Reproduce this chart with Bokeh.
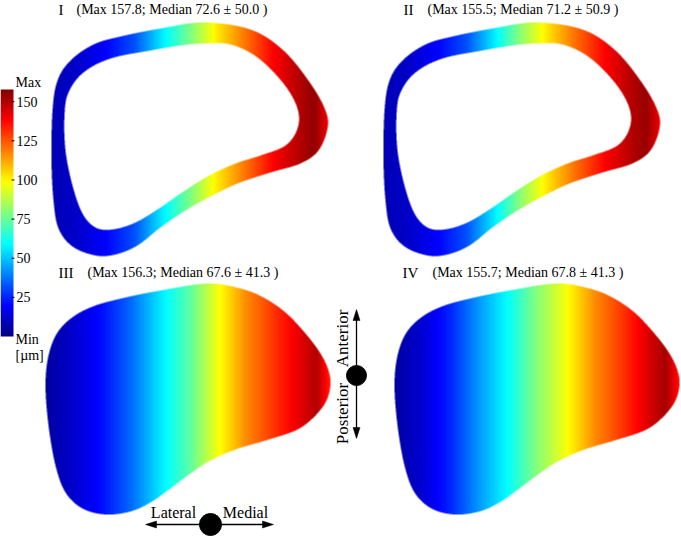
import numpy as np
from bokeh.plotting import figure
from bokeh.models import Range1d
from bokeh.core.properties import value
from bokeh.embed import file_html
from bokeh.resources import INLINE

W, H = 681, 536

# ---------------- data ----------------
PANELS = ["I", "II", "III", "IV"]
MAX_VALS = [157.8, 155.5, 156.3, 155.7]
MEDIANS = [72.6, 71.2, 67.6, 67.8]
SDS = [50.0, 50.9, 41.3, 41.3]
CBAR_TICKS = [25, 50, 75, 100, 125, 150]
CBAR_MIN, CBAR_MAX = 0.0, 157.8
UNIT = "[µm]"

# thickness profile along lateral -> medial (fraction of shape width)
PROFILE_POS = [0.0, 0.1, 0.2, 0.3, 0.4, 0.5, 0.6, 0.7, 0.8, 0.9, 0.95, 1.0]
PROFILE_I = [8, 12, 20, 32, 56, 78, 102, 120, 138, 150, 155, 140]
PROFILE_II = [8, 12, 20, 32, 56, 82, 104, 122, 138, 150, 154, 140]
PROFILE_III = [5, 12, 22, 36, 55, 72, 96, 116, 130, 143, 150, 132]
PROFILE_IV = [5, 13, 26, 44, 60, 80, 97, 116, 130, 145, 152, 135]
PROFILES = [PROFILE_I, PROFILE_II, PROFILE_III, PROFILE_IV]

# outline geometry (screen px, y down)
RING_OUTER = [(203, 22), (250, 29), (283, 50), (310, 83), (325, 110), (327, 128),
              (318, 150), (300, 163), (270, 172), (237, 183), (210, 196), (185, 210),
              (160, 227), (137, 245), (115, 254), (95, 255), (72, 246), (58, 228),
              (53, 200), (51, 160), (52, 110), (57, 80), (70, 60), (93, 44),
              (120, 36), (160, 28)]
RING_INNER = [(203, 43), (230, 44), (257, 57), (283, 83), (297, 108), (297, 128),
              (285, 145), (260, 155), (235, 163), (207, 176), (180, 193), (160, 207),
              (135, 222), (112, 229), (95, 227), (82, 213), (72, 185), (65, 150),
              (64, 115), (68, 92), (83, 72), (110, 58), (150, 50), (180, 45)]
SOLID = [(207, 283), (240, 288), (263, 297), (285, 312), (305, 333), (320, 353),
         (328, 370), (330, 385), (325, 402), (312, 418), (295, 430), (265, 440),
         (235, 449), (210, 460), (190, 473), (170, 488), (150, 502), (130, 511),
         (105, 514), (82, 508), (65, 492), (55, 465), (48, 425), (45, 385),
         (48, 355), (57, 332), (73, 316), (95, 305), (125, 297), (160, 290)]
RING_SHIFT = 332
SOLID_SHIFT = 349


def catmull(pts, k=8):
    P = np.asarray(pts, float)
    n = len(P)
    t = np.linspace(0, 1, k, endpoint=False)[:, None]
    out = []
    for i in range(n):
        p0, p1, p2, p3 = P[(i - 1) % n], P[i], P[(i + 1) % n], P[(i + 2) % n]
        seg = 0.5 * (2 * p1 + (-p0 + p2) * t + (2 * p0 - 5 * p1 + 4 * p2 - p3) * t ** 2
                     + (-p0 + 3 * p1 - 3 * p2 + p3) * t ** 3)
        out.append(seg)
    return np.vstack(out)


def inside(X, Y, poly):
    vx, vy = poly[:, 0], poly[:, 1]
    res = np.zeros(X.shape, bool)
    n = len(vx)
    j = n - 1
    for i in range(n):
        xi, yi, xj, yj = vx[i], vy[i], vx[j], vy[j]
        if yi != yj:
            cond = ((yi > Y) != (yj > Y)) & (X < (xj - xi) * (Y - yi) / (yj - yi) + xi)
            res ^= cond
        j = i
    return res


def coverage(outer, inner, x0, x1, y0, y1, ss=3):
    w, h = x1 - x0, y1 - y0
    xs = x0 + (np.arange(w * ss) + 0.5) / ss
    ys = y0 + (np.arange(h * ss) + 0.5) / ss
    X, Y = np.meshgrid(xs, ys)
    m = inside(X, Y, outer)
    if inner is not None:
        m &= ~inside(X, Y, inner)
    return m.reshape(h, ss, w, ss).mean(axis=(1, 3))


def jet(t):
    r = np.clip(1.5 - np.abs(4 * t - 3), 0, 1)
    g = np.clip(1.5 - np.abs(4 * t - 2), 0, 1)
    b = np.clip(1.5 - np.abs(4 * t - 1), 0, 1)
    return r, g, b


def to_img(r, g, b, a):
    h, w = a.shape
    rgba = np.zeros((h, w, 4), np.uint8)
    rgba[..., 0] = np.round(r * 255)
    rgba[..., 1] = np.round(g * 255)
    rgba[..., 2] = np.round(b * 255)
    rgba[..., 3] = np.round(a * 255)
    img = rgba.view(np.uint32).reshape(h, w)
    return np.ascontiguousarray(img[::-1])


p = figure(width=W, height=H, x_range=Range1d(0, W), y_range=Range1d(0, H),
           x_axis_type=None, y_axis_type=None, toolbar_location=None,
           output_backend="svg", min_border=0, outline_line_color=None,
           background_fill_color="white", border_fill_color="white")
p.grid.visible = False

ring_out = catmull(RING_OUTER)
ring_in = catmull(RING_INNER)
solid = catmull(SOLID)

RB = (44, 336, 14, 264)     # bbox x0, x1, y0, y1
SB = (38, 338, 276, 522)
cov_ring = coverage(ring_out, ring_in, *RB)
cov_solid = coverage(solid, None, *SB)

panels = [
    (cov_ring, RB, 0, ring_out),
    (cov_ring, RB, RING_SHIFT, ring_out),
    (cov_solid, SB, 0, solid),
    (cov_solid, SB, SOLID_SHIFT, solid),
]

for k, (cov, bb, sh, outline) in enumerate(panels):
    x0, x1, y0, y1 = bb
    x0s = x0 + sh
    h, w = cov.shape
    lo = outline[:, 0].min() + sh
    hi = outline[:, 0].max() + sh
    px = x0s + np.arange(w) + 0.5
    v = np.interp((px - lo) / (hi - lo), PROFILE_POS, PROFILES[k])
    t = np.clip((v - CBAR_MIN) / (CBAR_MAX - CBAR_MIN), 0, 1)
    r, g, b = jet(t)
    ones = np.ones((h, 1))
    img = to_img(ones * r[None, :], ones * g[None, :], ones * b[None, :], cov)
    p.image_rgba(image=[img], x=x0s, y=H - y1, dw=w, dh=h)

# ---------------- colorbar ----------------
CB_X0, CB_X1, CB_TOP, CB_BOT = 0, 13, 89, 336
ch = CB_BOT - CB_TOP
rows = CB_TOP + np.arange(ch) + 0.5
vals = CBAR_MAX * (CB_BOT - rows) / (CB_BOT - CB_TOP)
t = (vals - CBAR_MIN) / (CBAR_MAX - CBAR_MIN)
r, g, b = jet(t)
ones = np.ones((1, CB_X1 - CB_X0))
cimg = to_img(r[:, None] * ones, g[:, None] * ones, b[:, None] * ones,
              np.ones((ch, CB_X1 - CB_X0)))
p.image_rgba(image=[cimg], x=CB_X0, y=H - CB_BOT, dw=CB_X1 - CB_X0, dh=ch)


def ypix(v):
    return CB_BOT - (v - CBAR_MIN) / (CBAR_MAX - CBAR_MIN) * (CB_BOT - CB_TOP)


tick_y = [H - ypix(v) for v in CBAR_TICKS]
p.segment(x0=[CB_X1 - 2] * len(tick_y), x1=[CB_X1 + 1] * len(tick_y), y0=tick_y, y1=tick_y,
          line_color="black", line_width=1)
serif = value("Liberation Serif")
p.text(x=[16] * len(CBAR_TICKS), y=tick_y, text=[str(v) for v in CBAR_TICKS],
       text_font=serif, text_font_size=value("14px"), text_baseline="middle",
       text_align="left", text_color="black")
p.text(x=[15, 15, 15], y=[H - 82, H - 339, H - 355], text=["Max", "Min", UNIT],
       text_font=serif, text_font_size=value("14px"), text_baseline="middle",
       text_align="left", text_color="black")

# ---------------- titles ----------------
num_pos = [(58, 9), (403, 9), (58, 272), (402, 272)]
txt_pos = [(76, 9), (427, 9), (87, 272), (432, 272)]
for k in range(4):
    p.text(x=[num_pos[k][0]], y=[H - num_pos[k][1]], text=[PANELS[k]],
           text_font=serif, text_font_size=value("15px"), text_baseline="middle",
           text_color="black")
    s = f"(Max {MAX_VALS[k]:.1f}; Median {MEDIANS[k]:.1f} \u00b1 {SDS[k]:.1f} )"
    p.text(x=[txt_pos[k][0]], y=[H - txt_pos[k][1]], text=[s],
           text_font=serif, text_font_size=value("14px"), text_baseline="middle",
           text_color="black")

# ---------------- orientation markers ----------------
HEAD_L, HEAD_W = 11, 3.5
# vertical: Anterior / Posterior
vx, vy, vt, vb, vr = 356, 375, 309, 438, 10
p.segment(x0=[vx], x1=[vx], y0=[H - (vt + HEAD_L - 2)], y1=[H - (vb - HEAD_L + 2)],
          line_color="black", line_width=1.3)
p.patches(xs=[[vx, vx - HEAD_W, vx + HEAD_W], [vx, vx - HEAD_W, vx + HEAD_W]],
          ys=[[H - vt, H - (vt + HEAD_L), H - (vt + HEAD_L)],
              [H - vb, H - (vb - HEAD_L), H - (vb - HEAD_L)]],
          fill_color="black", line_color="black", line_width=0.5)
p.scatter(x=[vx], y=[H - vy], size=2 * vr, marker="circle", fill_color="black",
          line_color="black")
p.text(x=[342, 342], y=[H - 338, H - 413], text=["Anterior", "Posterior"],
       angle=np.pi / 2, text_font=serif, text_font_size=value("17px"),
       text_align="center", text_baseline="middle", text_color="black")

# horizontal: Lateral / Medial
hx, hy, hl, hr, hrad = 210, 524, 145, 273, 11
p.segment(x0=[hl + HEAD_L - 2], x1=[hr - HEAD_L + 2], y0=[H - hy], y1=[H - hy],
          line_color="black", line_width=1.3)
p.patches(xs=[[hl, hl + HEAD_L, hl + HEAD_L], [hr, hr - HEAD_L, hr - HEAD_L]],
          ys=[[H - hy, H - hy + HEAD_W, H - hy - HEAD_W],
              [H - hy, H - hy + HEAD_W, H - hy - HEAD_W]],
          fill_color="black", line_color="black", line_width=0.5)
p.scatter(x=[hx], y=[H - hy], size=2 * hrad, marker="circle", fill_color="black",
          line_color="black")
p.text(x=[173, 245], y=[H - 512, H - 512], text=["Lateral", "Medial"],
       text_font=serif, text_font_size=value("16px"), text_align="center",
       text_baseline="middle", text_color="black")

open("out.html", "w").write(file_html(p, INLINE))
